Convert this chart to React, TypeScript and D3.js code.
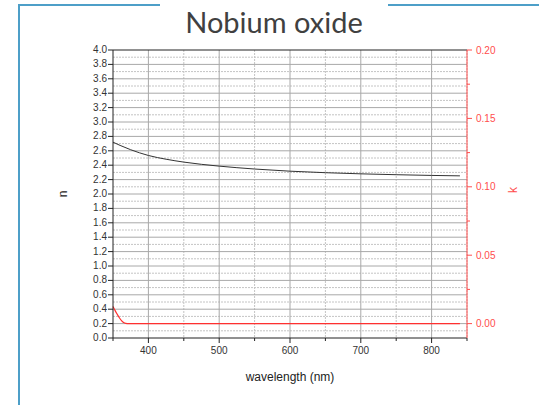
import React from "react";
import * as d3 from "d3";

const wavelength = [350, 360, 375, 400, 425, 450, 475, 500, 550, 600, 650, 700, 750, 800, 840];
const nValues = [2.72, 2.675, 2.615, 2.535, 2.483, 2.443, 2.412, 2.387, 2.347, 2.317, 2.296, 2.28, 2.268, 2.258, 2.252];
const kWave = [350, 353, 356, 359, 362, 365, 368, 372, 400, 500, 600, 700, 800, 840];
const kValues = [0.0125, 0.0095, 0.0068, 0.0043, 0.0022, 0.0008, 0.0002, 0, 0, 0, 0, 0, 0, 0];
const xTicks = [400, 500, 600, 700, 800];
const nTicks = d3.range(0, 4.01, 0.2);
const kTicks = [0, 0.05, 0.1, 0.15, 0.2];

const W = 539, H = 405;
const L = 113, R = 467, T = 50, B = 338;

export default function App() {
  const x = d3.scaleLinear().domain([350, 850]).range([L, R]);
  const yn = d3.scaleLinear().domain([0, 4]).range([B, T]);
  const yk = d3.scaleLinear().domain([-0.2 * 0.2 / 3.8, 0.2]).range([B, T]);
  const nLine = d3.line<number>().x((_, i) => x(wavelength[i])).y((d) => yn(d)).curve(d3.curveMonotoneX);
  const kLine = d3.line<number>().x((_, i) => x(kWave[i])).y((d) => yk(d)).curve(d3.curveMonotoneX);
  const xMinor = d3.range(450, 851, 100);
  const nMinor = d3.range(0.1, 4, 0.2);
  const kMinor = [0.025, 0.075, 0.125, 0.175];
  const font = "'Liberation Sans', Arial, sans-serif";
  return (
    <svg width={W} height={H} style={{ position: "absolute", left: 0, top: 0 }}>
      <rect width={W} height={H} fill="#fff" />
      {/* border */}
      <path d={`M19,${H} V5 H160 M388,5 H${W}`} fill="none" stroke="#4d9fc8" strokeWidth={2} />
      <text x={274} y={33} textAnchor="middle" fontFamily="Lato, 'Open Sans', sans-serif" fontSize={29} fill="#404040">
        Nobium oxide
      </text>
      {/* grid */}
      {nMinor.map((v, i) => (
        <line key={"nm" + i} x1={L} x2={R} y1={yn(v)} y2={yn(v)} stroke="#c4c4c4" strokeDasharray="2,1" />
      ))}
      {xMinor.map((v, i) => (
        <line key={"xm" + i} x1={x(v)} x2={x(v)} y1={T} y2={B} stroke="#c4c4c4" strokeDasharray="2,1" />
      ))}
      {nTicks.slice(1, -1).map((v, i) => (
        <line key={"ng" + i} x1={L} x2={R} y1={yn(v)} y2={yn(v)} stroke="#a8a8a8" />
      ))}
      {xTicks.map((v, i) => (
        <line key={"xg" + i} x1={x(v)} x2={x(v)} y1={T} y2={B} stroke="#a8a8a8" />
      ))}
      {/* curves */}
      <path d={nLine(nValues) || ""} fill="none" stroke="#333" strokeWidth={1} />
      <path d={kLine(kValues) || ""} fill="none" stroke="#ff3030" strokeWidth={1.2} />
      {/* frame */}
      <line x1={L} x2={R} y1={T} y2={T} stroke="#222" />
      <line x1={L} x2={R} y1={B} y2={B} stroke="#222" />
      <line x1={L} x2={L} y1={T} y2={B} stroke="#222" />
      <line x1={R} x2={R} y1={T} y2={B} stroke="#ff4d4d" />
      {/* x ticks */}
      {xTicks.map((v, i) => (
        <g key={"xt" + i}>
          <line x1={x(v)} x2={x(v)} y1={B} y2={B + 5} stroke="#222" />
          <text x={x(v)} y={B + 16} textAnchor="middle" fontFamily={font} fontSize={10} fill="#333">{v}</text>
        </g>
      ))}
      {[350, ...xMinor].map((v, i) => (
        <line key={"xmt" + i} x1={x(v)} x2={x(v)} y1={B} y2={B + 3} stroke="#222" />
      ))}
      {/* left ticks */}
      {nTicks.map((v, i) => (
        <g key={"nt" + i}>
          <line x1={L - 5} x2={L} y1={yn(v)} y2={yn(v)} stroke="#222" />
          <text x={L - 6} y={yn(v) + 3} textAnchor="end" fontFamily={font} fontSize={10} fill="#333">{v.toFixed(1)}</text>
        </g>
      ))}
      {/* right ticks */}
      {kTicks.map((v, i) => (
        <g key={"kt" + i}>
          <line x1={R} x2={R + 5} y1={yk(v)} y2={yk(v)} stroke="#ff4d4d" />
          <text x={R + 9} y={yk(v) + 3.5} fontFamily={font} fontSize={10} fill="#ff4d4d">{v.toFixed(2)}</text>
        </g>
      ))}
      {kMinor.map((v, i) => (
        <line key={"kmt" + i} x1={R} x2={R + 3} y1={yk(v)} y2={yk(v)} stroke="#ff4d4d" />
      ))}
      {/* axis titles */}
      <text transform={`translate(67,${(T + B) / 2}) rotate(-90)`} textAnchor="middle" fontFamily={font} fontSize={12} fill="#222">n</text>
      <text transform={`translate(517,${(T + B) / 2 - 4}) rotate(-90)`} textAnchor="middle" fontFamily={font} fontSize={12} fill="#ff4d4d">k</text>
      <text x={(L + R) / 2} y={381} textAnchor="middle" fontFamily={font} fontSize={12} fill="#222">wavelength (nm)</text>
    </svg>
  );
}
